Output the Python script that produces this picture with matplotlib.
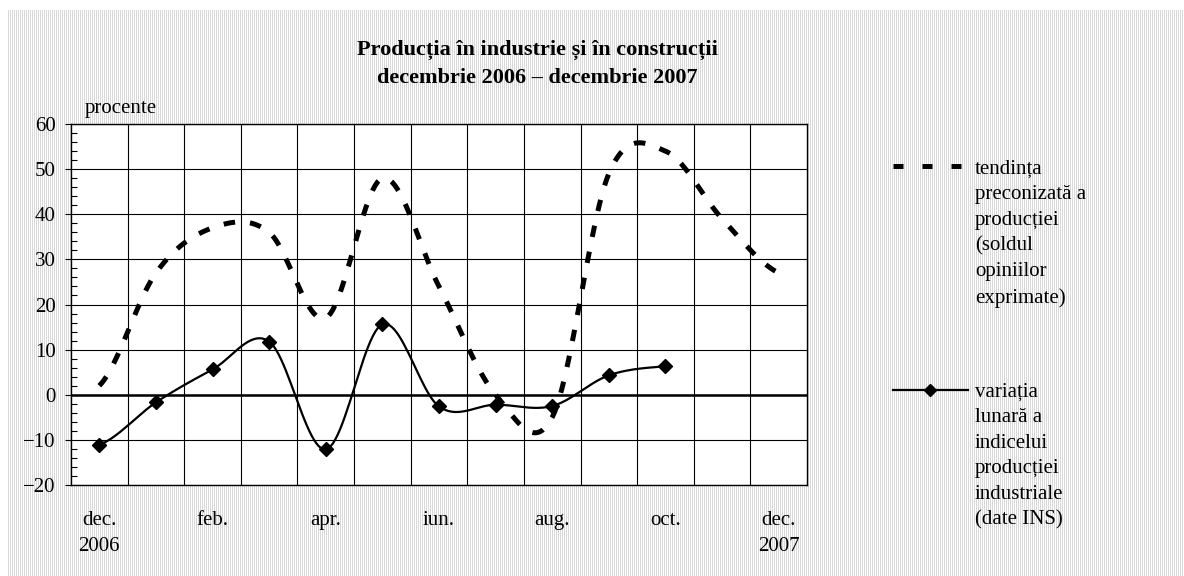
import numpy as np
import matplotlib
matplotlib.use("Agg")
import matplotlib.pyplot as plt
from matplotlib.lines import Line2D
from matplotlib.ticker import MultipleLocator

# date (procente)
luni = ["dec.\n2006", "ian.", "feb.", "mar.", "apr.", "mai", "iun.",
        "iul.", "aug.", "sep.", "oct.", "nov.", "dec.\n2007"]
tendinta = [2, 27, 37, 36, 17, 48, 24, 0, -5, 49, 54, 39, 27]
variatia = [-11.1, -1.7, 5.6, 11.8, -12.1, 15.6, -2.6, -2.2, -2.5, 4.3, 6.3]
luni_afisate = [0, 2, 4, 6, 8, 10, 12]

W, H = 1184, 576
FS = 15
plt.rcParams['font.family'] = ['Liberation Serif', 'DejaVu Serif']


def px(x, y):
    return x / W, 1 - y / H


def netezire(y, pasi=24):
    # linie netezita ca in Excel (Catmull-Rom)
    y = np.asarray(y, float)
    p = np.concatenate([[y[0]], y, [y[-1]]])
    t = np.linspace(0, 1, pasi, endpoint=False)
    h00 = 2 * t**3 - 3 * t**2 + 1
    h10 = t**3 - 2 * t**2 + t
    h01 = -2 * t**3 + 3 * t**2
    h11 = t**3 - t**2
    xs, ys = [], []
    for i in range(len(y) - 1):
        m1 = (p[i + 2] - p[i]) / 2
        m2 = (p[i + 3] - p[i + 1]) / 2
        ys.append(h00 * p[i + 1] + h10 * m1 + h01 * p[i + 2] + h11 * m2)
        xs.append(i + t)
    xs.append([len(y) - 1])
    ys.append([y[-1]])
    return np.concatenate(xs), np.concatenate(ys)


fig = plt.figure(figsize=(W / 100, H / 100), dpi=100)

# fundal hasurat
fundal = np.ones((H, W, 3))
cols = np.arange(W)
dung = (cols % 2 == 0) & (cols >= 7)
fundal[10:, dung, :] = 0.85
fig.figimage(fundal, xo=0, yo=0, origin='upper', zorder=-5)

l, r = 71, 807
t, b = 124, 485
ax = fig.add_axes([l / W, 1 - b / H, (r - l) / W, (b - t) / H])
ax.set_facecolor('white')

ax.set_xlim(-0.5, 12.5)
ax.set_ylim(-20, 60)

xt, yt = netezire(tendinta)
ax.plot(xt, yt, color='black', lw=3.6, dashes=(2.3, 3.0),
        solid_capstyle='butt', dash_capstyle='butt', zorder=4)

xv, yv = netezire(variatia)
ax.plot(xv, yv, color='black', lw=1.6, zorder=5)
ax.plot(range(len(variatia)), variatia, ls='none', marker='D',
        ms=7, color='black', zorder=6)

ax.axhline(0, color='black', lw=1.8, zorder=3)

ax.set_xticks(luni_afisate)
ax.set_xticklabels([luni[i] for i in luni_afisate], fontsize=FS,
                   linespacing=1.5)
ax.set_xticks(np.arange(0.5, 12.5, 1), minor=True)
ax.tick_params(axis='x', which='both', length=0, pad=19)
ax.grid(which='minor', axis='x', color='black', lw=0.8)

ax.set_yticks(range(-20, 61, 10))
ax.yaxis.set_minor_locator(MultipleLocator(2))
ax.tick_params(axis='y', which='major', direction='out', length=4,
               width=0.8, labelsize=FS, pad=7)
ax.tick_params(axis='y', which='minor', direction='in', length=4,
               width=0.8)
ax.grid(which='major', axis='y', color='black', lw=0.8)
ax.set_axisbelow(True)
for s in ax.spines.values():
    s.set_color('black')
    s.set_linewidth(1.0)

fig.text(*px(85, 108), 'procente', fontsize=FS, va='center', ha='left')

fig.text(*px(537, 64), 'Producția în industrie și în construcții\n'
         'decembrie 2006 – decembrie 2007', fontsize=16,
         fontweight='bold', ha='center', va='center', linespacing=1.55)

# legenda
x0, x1 = px(893, 166)[0], px(961, 166)[0]
fig.add_artist(Line2D([x0, x1], [px(0, 166)[1]] * 2, color='black', lw=3.6,
                      dashes=(2.0, 3.8), dash_capstyle='butt',
                      transform=fig.transFigure))
fig.text(*px(975, 160), 'tendința\npreconizată a\nproducției\n(soldul\n'
         'opiniilor\nexprimate)', fontsize=FS, va='top', ha='left',
         linespacing=1.46)

y2 = px(0, 390)[1]
fig.add_artist(Line2D([px(893, 0)[0], px(968, 0)[0]], [y2, y2],
                      color='black', lw=1.6, transform=fig.transFigure))
fig.add_artist(Line2D([px(930, 0)[0]], [y2], marker='D', ms=6.5,
                      color='black', transform=fig.transFigure))
fig.text(*px(975, 383), 'variația\nlunară a\nindicelui\nproducției\n'
         'industriale\n(date INS)', fontsize=FS, va='top', ha='left',
         linespacing=1.46)

fig.savefig('out.png', dpi=100)
